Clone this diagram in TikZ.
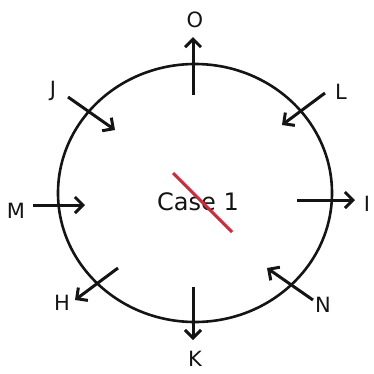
\documentclass[tikz,border=0pt]{standalone}
\usepackage{fontspec}
\setmainfont{DejaVu Sans}
\usetikzlibrary{arrows.meta}
\definecolor{strike}{RGB}{210,40,55}
\definecolor{ink}{RGB}{20,20,20}
\begin{document}
\begin{tikzpicture}[x=1pt, y=-1pt,
  lbl/.style={text=ink, font=\fontsize{21}{25}\selectfont, inner sep=0pt},
  arr/.style={ink, line width=3pt, -{Straight Barb[length=8pt,width=16pt,line width=3pt]}}]
\useasboundingbox (0,0) rectangle (374,373);
% Kreis
\draw[ink, line width=2.6pt] (195,193) ellipse[x radius=137, y radius=129];
% Mitte
\node[lbl, anchor=base, font=\fontsize{24}{28}\selectfont] (case) at (198,210) {Case 1};
\draw[strike, line width=3pt] (173,173) -- (232,232);
% Beschriftungen
\node[lbl] (O) at (195,20) {O};
\node[lbl] (L) at (341,92) {L};
\node[lbl] (J) at (53,91) {J};
\node[lbl] (M) at (16,211) {M};
\node[lbl] (I) at (367,204) {I};
\node[lbl] (H) at (62,303) {H};
\node[lbl] (K) at (195,359) {K};
\node[lbl] (N) at (323,305) {N};
% Pfeile
\coordinate (o1) at (193,95);  \coordinate (o2) at (193,37);
\coordinate (l1) at (325,93);  \coordinate (l2) at (282,125);
\coordinate (j1) at (68,97);   \coordinate (j2) at (115,130);
\coordinate (m1) at (33,205);  \coordinate (m2) at (85,205);
\coordinate (i1) at (297,200); \coordinate (i2) at (355,200);
\coordinate (h1) at (118,268); \coordinate (h2) at (75,300);
\coordinate (k1) at (193,287); \coordinate (k2) at (193,340);
\coordinate (n1) at (313,300); \coordinate (n2) at (267,268);
\foreach \a in {o,l,j,m,i,h,k,n}{\draw[arr] (\a1) -- (\a2);}
\end{tikzpicture}
\end{document}
